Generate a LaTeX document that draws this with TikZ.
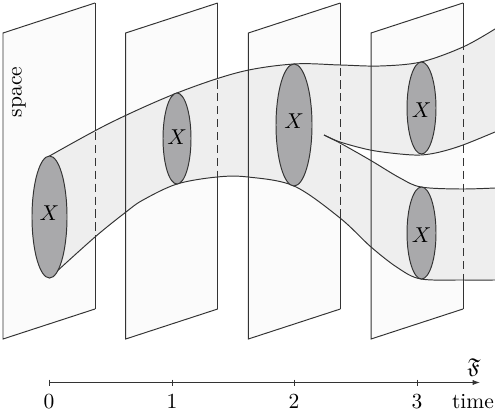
\documentclass[tikz,border=0pt]{standalone}
\usepackage{amssymb}
\usetikzlibrary{arrows.meta}
\definecolor{planefill}{HTML}{FBFBFB}
\definecolor{tubefill}{HTML}{EEEEEE}
\definecolor{ellfill}{HTML}{A9A9AB}
\definecolor{linec}{HTML}{333333}
\begin{document}
\begin{tikzpicture}[x=0.465pt,y=-0.465pt,
  edge/.style={draw=linec,line width=0.45pt},
  hidden/.style={draw=linec,line width=0.45pt,dash pattern=on 3.8pt off 2.2pt},
  section/.style={draw=linec,line width=0.45pt,fill=ellfill},
  lbl/.style={inner sep=1pt},
  topcurve/.style={insert path={-- plot[smooth,tension=0.55] coordinates {(49.5,156) (110,123) (177,93) (240,72) (294,64) (340,65) (380,66) (421,62) (463,47) (495,29)}}},
  botcurve/.style={insert path={-- plot[smooth,tension=0.55] coordinates {(495,280) (463,280) (421,279) (398,268) (371,247) (340,218) (294,186) (248,177) (217,177) (177,184) (143,200) (126,212) (95,237) (49.5,278)}}},
  branchArev/.style={insert path={-- plot[smooth,tension=0.55] coordinates {(495,132) (463,145) (440,152) (421,155) (400,154) (370,150) (340,142) (324,135)}}},
  branchA/.style={insert path={-- plot[smooth,tension=0.55] coordinates {(324,135) (340,142) (370,150) (400,154) (421,155) (440,152) (463,145) (495,132)}}},
  branchB/.style={insert path={-- plot[smooth,tension=0.55] coordinates {(324,135) (340,143) (370,160) (400,178) (421,187) (460,189) (495,188)}}}]
\useasboundingbox (0,0) rectangle (495,412);
% planes
\foreach \i in {0,1,2,3}{
  \pgfmathsetmacro{\xl}{3+122.67*\i}
  \pgfmathsetmacro{\xr}{\xl+92}
  \fill[planefill] (\xl,33) -- (\xr,3) -- (\xr,309) -- (\xl,339) -- cycle;
  \coordinate (p\i tl) at (\xl,33);
  \coordinate (p\i tr) at (\xr,3);
  \coordinate (p\i br) at (\xr,309);
  \coordinate (p\i bl) at (\xl,339);
}
% tube
\fill[tubefill] (49.5,156) [topcurve] -- (495,132) [branchArev] [branchB] -- (495,280) [botcurve] -- cycle;
% plane edges
\foreach \i in {0,1,2,3}{
  \draw[edge] (p\i br) -- (p\i bl) -- (p\i tl) -- (p\i tr);
}
\begin{scope}
  \clip (49.5,156) [topcurve] -- (495,280) [botcurve] -- cycle;
  \foreach \i in {0,1,2,3}{\draw[hidden] (p\i tr) -- (p\i br);}
\end{scope}
\begin{scope}[even odd rule]
  \clip (-10,-10) rectangle (510,420) (49.5,156) [topcurve] -- (495,280) [botcurve] -- cycle;
  \foreach \i in {0,1,2,3}{\draw[edge] (p\i tr) -- (p\i br);}
\end{scope}
% tube outlines
\draw[edge] (49.5,156) [topcurve];
\draw[edge] (495,280) [botcurve];
\draw[edge] (324,135) [branchA];
\draw[edge] (324,135) [branchB];
% sections
\path[section] (49.5,217) ellipse [x radius=8.14pt, y radius=28.37pt];
\path[section] (177,138.5) ellipse [x radius=6.51pt, y radius=21.16pt];
\path[section] (294,125) ellipse [x radius=8.37pt, y radius=28.37pt];
\path[section] (421.5,108) ellipse [x radius=6.74pt, y radius=21.39pt];
\path[section] (421.5,233) ellipse [x radius=6.74pt, y radius=21.39pt];
\node[lbl] (x0) at (49.5,213) {$X$};
\node[lbl] (x1) at (177,137) {$X$};
\node[lbl] (x2) at (294,121) {$X$};
\node[lbl] (x3a) at (421.5,110) {$X$};
\node[lbl] (x3b) at (421.5,235) {$X$};
\node[lbl,rotate=90] (space) at (19,92) {space};
% time axis
\coordinate (a0) at (49,382.5);
\coordinate (aend) at (480,382.5);
\draw[edge,-{Latex[length=3.4pt,width=2.4pt]}] (a0) -- (aend);
\foreach \k/\xx in {0/49,1/172,2/294,3/417}{
  \draw[edge] (\xx,379.5) -- (\xx,385.5);
  \node[lbl,anchor=north] (t\k) at (\xx,392) {$\k$};
}
\node[lbl,anchor=north] (time) at (473,392) {time};
\node[lbl] (frak) at (474,367) {$\mathfrak{F}$};
\end{tikzpicture}
\end{document}
